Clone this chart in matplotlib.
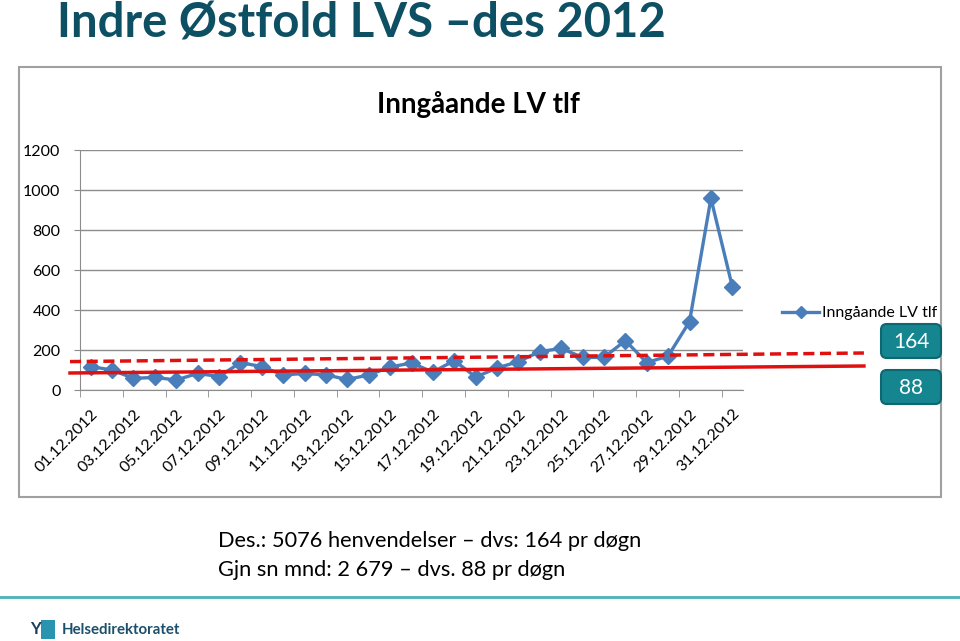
import matplotlib.pyplot as plt
from matplotlib.patches import FancyBboxPatch, Rectangle
from matplotlib.lines import Line2D

# data
days = list(range(1, 32))
calls = [117, 100, 58, 63, 50, 83, 67, 137, 117, 75, 83, 75, 53, 75,
         115, 135, 90, 147, 65, 110, 142, 192, 208, 163, 163, 247, 137, 170,
         342, 958, 517]
tick_labels = ["%02d.12.2012" % d for d in days[::2]]

# hand-drawn red lines on the slide (value at left / right end)
dashed_ends = [142, 185]
solid_ends = [85, 120]
box_values = ["164", "88"]

title_col = "#0d4f63"
blue = "#4a7ebb"
teal = "#15858f"
font = ["Lato", "DejaVu Sans"]

fig = plt.figure(figsize=(9.6, 6.41), dpi=100)
fig.patch.set_facecolor("white")

W, H = 960, 641
def fx(px):
    return px / W
def fy(py):
    return 1 - py / H

# slide title
fig.text(fx(57), fy(24), "Indre Østfold LVS \u2013des 2012", fontsize=34, fontweight="bold",
         color=title_col, family=font, va="center", ha="left")

# chart frame
frame = Rectangle((fx(19), fy(497)), fx(922), (497 - 67) / H, transform=fig.transFigure,
                  facecolor="white", edgecolor="#a0a0a0", lw=1.5, zorder=-1)
fig.patches.append(frame)
fig.text(fx(478), fy(105), "Inngåande LV tlf", fontsize=20, fontweight="bold",
         family=font, ha="center", va="center", color="black")

ax = fig.add_axes([fx(80), fy(390), fx(663), (390 - 150) / H])
ax.set_facecolor("none")
ax.plot(days, calls, color=blue, lw=2.4, marker="D", markersize=8, zorder=3,
        label="Inngåande LV tlf", clip_on=False)
ax.set_xlim(0.5, 31.5)
ax.set_ylim(0, 1200)
ax.set_yticks(range(0, 1201, 200))
ax.yaxis.grid(True, color="#8c8c8c", lw=1)
ax.set_axisbelow(True)
for s in ["top", "right"]:
    ax.spines[s].set_visible(False)
ax.spines["left"].set_color("#8c8c8c")
ax.spines["bottom"].set_color("#8c8c8c")
ax.tick_params(axis="y", length=4, color="#8c8c8c", labelsize=11.5, pad=10)
for lab in ax.get_yticklabels():
    lab.set_family(font)

ax.set_xticks(days[::2])
ax.set_xticklabels(tick_labels, rotation=45, ha="right", rotation_mode="anchor",
                   fontsize=11.5, family=font)
ax.tick_params(axis="x", which="major", length=0, pad=12)
ax.set_xticks([d + 0.5 for d in range(0, 31, 2)], minor=True)
ax.tick_params(axis="x", which="minor", length=5, color="#8c8c8c")

# red lines drawn over the chart, reaching past the plot area
x_left = 0.5 - 10 / 21.4
x_right = 31.5 + 121 / 21.4
ax.plot([x_left, x_right], dashed_ends, color="#e01010", lw=2.5, ls=(0, (3.2, 1.6)),
        clip_on=False, zorder=4)
ax.plot([x_left, x_right], solid_ends, color="#e01010", lw=2.5, clip_on=False, zorder=4)

# legend
fig.legend(handles=[Line2D([], [], color=blue, lw=2.4, marker="D", markersize=6)],
           labels=["Inngåande LV tlf"], loc="center left", bbox_to_anchor=(fx(768), fy(313)),
           frameon=False, prop={"family": font, "size": 11.5}, handlelength=2.3,
           handletextpad=0.2)

# value boxes
for val, top in zip(box_values, [324, 370]):
    fig.patches.append(FancyBboxPatch((fx(881), fy(top + 34)), fx(60), 34 / H,
                                      boxstyle="round,pad=0,rounding_size=0.006",
                                      transform=fig.transFigure, facecolor=teal,
                                      edgecolor="#0c6770", lw=1.5, mutation_aspect=1.5))
    fig.text(fx(911), fy(top + 18), val, color="white", fontsize=15, family=font,
             ha="center", va="center")

# notes below the chart
fig.text(fx(218), fy(541), "Des.: 5076 henvendelser \u2013 dvs: 164 pr døgn", fontsize=15.7,
         family=font, va="center", ha="left")
fig.text(fx(218), fy(570), "Gjn sn mnd: 2 679 \u2013 dvs. 88 pr døgn", fontsize=15.7,
         family=font, va="center", ha="left")

# footer
fig.add_artist(Line2D([0, 1], [fy(597), fy(597)], color="#48b3b8", lw=2))
fig.patches.append(Rectangle((fx(41), fy(639)), fx(14), 19 / H, transform=fig.transFigure,
                             facecolor="#2a93b0", edgecolor="none"))
fig.text(fx(35), fy(629), "Y", fontsize=12, fontweight="bold", color="#1b3f5b",
         family=font, va="center", ha="center")
fig.text(fx(62), fy(630), "Helsedirektoratet", fontsize=10.8, fontweight="bold",
         color="#1b4f6b", family=font, va="center", ha="left")

fig.savefig("out.png", dpi=100)
